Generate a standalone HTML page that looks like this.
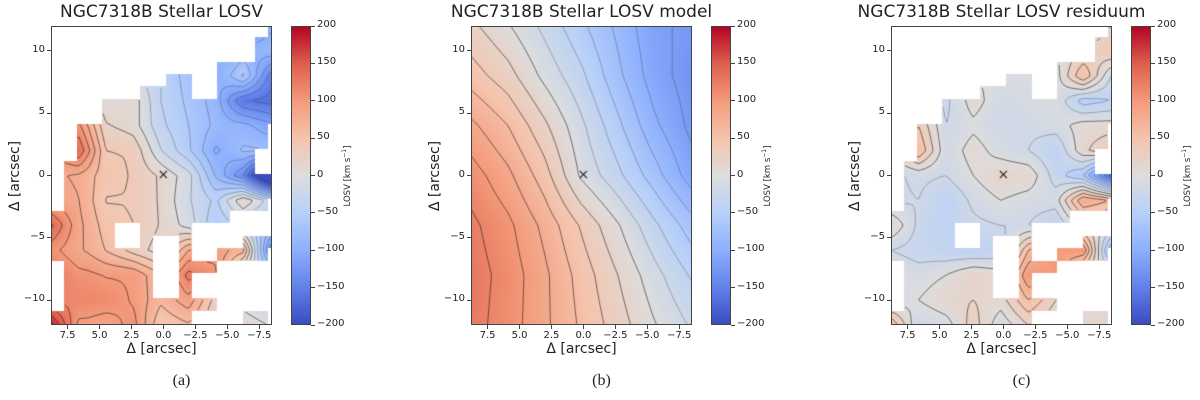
<!DOCTYPE html>
<html><head><meta charset="utf-8">
<style>
body{margin:0;background:#fff;width:1200px;height:400px;overflow:hidden;position:relative;font-family:"DejaVu Sans","Liberation Sans",sans-serif;color:#222}
.abs{position:absolute}
.title{font-size:17px;white-space:nowrap;transform:translateX(-50%)}
.tick{font-size:10px;white-space:nowrap}
.xl{font-size:14px;white-space:nowrap;transform:translateX(-50%)}
.yl{font-size:14px;white-space:nowrap;transform:translate(-50%,-50%) rotate(-90deg)}
.cbl{font-size:8.5px;white-space:nowrap;transform:translate(-50%,-50%) rotate(-90deg)}
.cap{font-family:"Liberation Serif",serif;font-size:16px;transform:translateX(-50%)}
canvas{position:absolute}
.frame{position:absolute;border:1px solid #444;box-sizing:border-box}
</style></head><body>
<script>
// ---- data ----
var colorbarTicks=[200,150,100,50,0,-50,-100,-150,-200];
var xTicks=[7.5,5.0,2.5,0.0,-2.5,-5.0,-7.5];
var yTicks=[10,5,0,-5,-10];
var contourLevels=[-200,-180,-160,-140,-120,-100,-80,-60,-40,-20,0,20,40,60,80,100,120,140,160,180,200];
var panelTitles=["NGC7318B Stellar LOSV","NGC7318B Stellar LOSV model","NGC7318B Stellar LOSV residuum"];
var panelCaptions=["(a)","(b)","(c)"];
var modelX=[8.8,5.9,3.1,0.2,-2.7,-5.5,-8.4];
var modelY=[12,8,4,0,-4,-8,-12];
var modelV=[
[25,2,-25,-55,-85,-115,-125],
[50,28,-5,-35,-75,-110,-130],
[85,60,25,-15,-55,-95,-125],
[110,85,50,-3,-35,-70,-110],
[125,105,75,38,2,-35,-70],
[130,112,85,52,20,-12,-42],
[128,110,85,57,30,2,-22]];
var resX=[8.8,6.65,4.5,2.35,0.2,-1.95,-4.1,-6.25,-8.4];
var resY=[12,10,8,6,4,2,0,-2,-4,-6,-8,-10,-12];
var resV=[
[0,0,0,0,0,0,0,-10,20],
[0,0,0,0,0,0,0,20,40],
[0,0,0,0,-5,-5,-10,60,-20],
[0,0,-25,10,-15,-10,-5,-50,-40],
[0,40,-20,-5,-20,-15,-10,10,10],
[0,60,-15,10,-10,-20,-40,15,40],
[-25,-15,-20,0,20,15,-30,-60,-170],
[-25,-20,-40,-15,0,-10,-10,80,60],
[20,-25,-40,-25,-20,-20,-40,10,0],
[-20,-30,-35,-40,-35,60,100,100,-80],
[0,-10,0,20,10,100,100,0,0],
[-15,0,15,20,10,60,20,0,0],
[60,-20,-10,30,-15,20,0,20,20]];
var coverage=[
"000000000000000001","000000000000000011","000000000000000011","000000000000011111",
"000000000110011111","000000011110011111","000011111111111111","000011111111111111",
"001111111111111110","001111111111111110","001111111111111100","011111111111111100",
"011111111111111111","011111111111111111","011111111111111110","111111111111110000",
"111110011110000000","111110010010000111","111111110010011110","011111110011100000",
"011111110010000000","011111110010000000","011111111111100000","111111111110000110"];
</script>
<script>
var X0=8.8,X1=-8.5,Y0=12,Y1=-12,PW=221,PH=299,TOP=26;
var lefts=[51,471,891];
function sx(L,x){return L+(X0-x)/(X0-X1)*PW;}
function sy(y){return TOP+(Y0-y)/(Y0-Y1)*PH;}
function interp(xs,ys,V,x,y){
  function idx(a,v){for(var i=0;i<a.length-1;i++){if((v<=a[i]&&v>=a[i+1]))return i;}return v>a[0]?0:a.length-2;}
  var i=idx(xs,x),j=idx(ys,y);
  var tx=(x-xs[i])/(xs[i+1]-xs[i]),ty=(y-ys[j])/(ys[j+1]-ys[j]);
  tx=Math.max(0,Math.min(1,tx));ty=Math.max(0,Math.min(1,ty));
  return V[j][i]*(1-tx)*(1-ty)+V[j][i+1]*tx*(1-ty)+V[j+1][i]*(1-tx)*ty+V[j+1][i+1]*tx*ty;
}
function covered(x,y){var c=Math.floor(8.8-x),r=Math.floor(12.15-y);if(c<0)c=0;if(c>17)c=17;if(r<0)r=0;if(r>23)r=23;return coverage[r][c]==='1';}
function field(p,x,y){
  var m=interp(modelX,modelY,modelV,x,y);
  if(p===1)return m;
  if(!covered(x,y))return NaN;
  var r=interp(resX,resY,resV,x,y);
  return p===0?m+r:r;
}
var cm=[[59,76,192],[98,130,234],[141,176,254],[184,208,249],[221,221,221],[245,196,173],[244,154,123],[222,96,77],[180,4,38]];
function cmap(v){var t=(v+200)/400;t=Math.max(0,Math.min(1,t))*8;var i=Math.min(7,Math.floor(t)),f=t-i;
  return [0,1,2].map(function(k){return Math.round(cm[i][k]*(1-f)+cm[i+1][k]*f);});}
function add(tag,cls,name,inter,style,text){var e=document.createElement(tag);if(cls)e.className=cls;
  
  
  if(style)e.style.cssText=style;if(text!==undefined)e.textContent=text;document.body.appendChild(e);return e;}
var gradStops=cm.map(function(c,i){return 'rgb('+c.join(',')+') '+(i*12.5)+'%';}).join(',');
for(var p=0;p<3;p++){
  var L=lefts[p];
  var cv=add('canvas','','losv-map',false,'left:'+L+'px;top:'+TOP+'px;');
  cv.width=PW;cv.height=PH;
  var ctx=cv.getContext('2d');var img=ctx.createImageData(PW,PH);
  for(var py=0;py<PH;py++)for(var px=0;px<PW;px++){
    var x=X0-(px+0.5)/PW*(X0-X1),y=Y0-(py+0.5)/PH*(Y0-Y1);var v=field(p,x,y);var o=(py*PW+px)*4;
    if(isNaN(v)){img.data[o]=255;img.data[o+1]=255;img.data[o+2]=255;}else{var c=cmap(v);img.data[o]=c[0];img.data[o+1]=c[1];img.data[o+2]=c[2];}
    img.data[o+3]=255;}
  ctx.putImageData(img,0,0);
  var s=2,nx=Math.ceil(PW/s)+1,ny=Math.ceil(PH/s)+1,G=[];
  for(var j=0;j<ny;j++){G.push([]);for(var i=0;i<nx;i++){G[j].push(field(p,X0-(i*s)/PW*(X0-X1),Y0-(j*s)/PH*(Y0-Y1)));}}
  contourLevels.forEach(function(lv){
    ctx.beginPath();
    ctx.strokeStyle=lv<0?'rgba(40,40,40,0.45)':'rgba(20,20,20,0.7)';ctx.lineWidth=lv<0?0.7:0.8;
    for(var j=0;j<ny-1;j++)for(var i=0;i<nx-1;i++){
      var a=G[j][i],b=G[j][i+1],c=G[j+1][i+1],d=G[j+1][i];
      if(isNaN(a)||isNaN(b)||isNaN(c)||isNaN(d))continue;
      var pts=[];
      function e(v1,v2,x1,y1,x2,y2){if((v1<lv)!==(v2<lv)){var t=(lv-v1)/(v2-v1);pts.push([x1+(x2-x1)*t,y1+(y2-y1)*t]);}}
      var x0=i*s,y0=j*s;
      e(a,b,x0,y0,x0+s,y0);e(b,c,x0+s,y0,x0+s,y0+s);e(c,d,x0+s,y0+s,x0,y0+s);e(d,a,x0,y0+s,x0,y0);
      for(var k=0;k+1<pts.length;k+=2){ctx.moveTo(pts[k][0],pts[k][1]);ctx.lineTo(pts[k+1][0],pts[k+1][1]);}
    }
    ctx.stroke();
  });
  ctx.font='14px "DejaVu Sans",sans-serif';ctx.fillStyle='#222';ctx.textAlign='center';ctx.textBaseline='middle';
  ctx.fillText('×',sx(0,0),sy(0)-TOP);
  add('div','frame','plot-frame',false,'left:'+L+'px;top:'+TOP+'px;width:'+PW+'px;height:'+PH+'px;');
  add('div','abs title','chart-title',false,'left:'+(L+PW/2)+'px;top:2px;',panelTitles[p]);
  xTicks.forEach(function(t){var X=sx(L,t);
    add('div','abs','x-tick-mark',false,'left:'+(X-0.5)+'px;top:'+(TOP+PH)+'px;width:1px;height:4px;background:#444;');
    add('div','abs tick','x-tick-label',false,'left:'+X+'px;top:'+(TOP+PH+5)+'px;transform:translateX(-50%);',t.toFixed(1).replace('-','−'));});
  yTicks.forEach(function(t){var Y=sy(t);
    add('div','abs','y-tick-mark',false,'left:'+(L-4)+'px;top:'+(Y-0.5)+'px;width:4px;height:1px;background:#444;');
    add('div','abs tick','y-tick-label',false,'right:'+(1200-L+6)+'px;top:'+(Y-7)+'px;',String(t).replace('-','−'));});
  add('div','abs xl','x-axis-title',false,'left:'+(L+PW/2)+'px;top:341px;','Δ [arcsec]');
  add('div','abs yl','y-axis-title',false,'left:'+(L-36)+'px;top:'+(TOP+PH/2)+'px;','Δ [arcsec]');
  var CB=L+240;
  add('div','abs','colorbar',false,'left:'+CB+'px;top:'+TOP+'px;width:20px;height:'+PH+'px;border:1px solid #444;box-sizing:border-box;background:linear-gradient(to top,'+gradStops+');');
  colorbarTicks.forEach(function(t){var Y=TOP+(200-t)/400*PH;
    add('div','abs','colorbar-tick-mark',false,'left:'+(CB+20)+'px;top:'+(Y-0.5)+'px;width:4px;height:1px;background:#444;');
    add('div','abs tick','colorbar-tick-label',false,'left:'+(CB+26)+'px;top:'+(Y-7)+'px;',String(t).replace('-','−'));});
  var lab=add('div','abs cbl','colorbar-label',false,'left:'+(CB+56)+'px;top:'+(TOP+PH/2)+'px;','');
  lab.innerHTML='LOSV [km s<sup style="font-size:6px">−1</sup>]';
  add('div','abs cap','panel-caption',false,'left:'+(L+PW/2+20)+'px;top:372px;',panelCaptions[p]);
}
</script>
</body></html>
